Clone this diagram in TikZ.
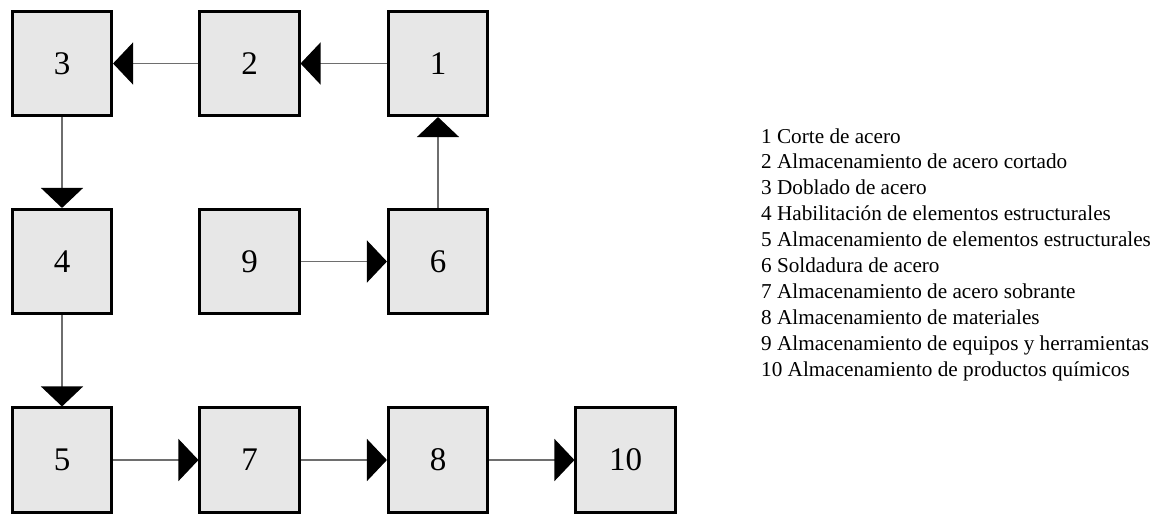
\documentclass[tikz,border=0pt]{standalone}
\usepackage{fontspec}
\setmainfont{Liberation Serif}
\usetikzlibrary{arrows.meta}
\definecolor{boxfill}{HTML}{E7E7E7}
\definecolor{linegray}{HTML}{6E6E6E}
\tikzset{
  procbox/.style={draw=black, line width=2.6pt, fill=boxfill, minimum width=99.5pt, minimum height=104.5pt, inner sep=0pt, font=\fontsize{33}{36}\selectfont},
  flow/.style={draw=linegray, line width=1.2pt, -{Triangle[length=20pt,width=42pt,color=black]}},
  legend/.style={anchor=base west, inner sep=0pt, font=\fontsize{21.2}{25}\selectfont}
}
\begin{document}
\begin{tikzpicture}[x=1pt,y=-1pt]
\useasboundingbox (0,0) rectangle (1163,515);
\node[procbox] (n3) at (62,63.5) {3};
\node[procbox] (n2) at (249.5,63.5) {2};
\node[procbox] (n1) at (438,63.5) {1};
\node[procbox] (n4) at (62,261.5) {4};
\node[procbox] (n9) at (249.5,261.5) {9};
\node[procbox] (n6) at (438,261.5) {6};
\node[procbox] (n5) at (62,460) {5};
\node[procbox] (n7) at (249.5,460) {7};
\node[procbox] (n8) at (438,460) {8};
\node[procbox] (n10) at (625.5,460) {10};
\draw[flow] (n1) -- (n2);
\draw[flow] (n2) -- (n3);
\draw[flow] (n3) -- (n4);
\draw[flow] (n4) -- (n5);
\draw[flow] (n5) -- (n7);
\draw[flow] (n7) -- (n8);
\draw[flow] (n8) -- (n10);
\draw[flow] (n9) -- (n6);
\draw[flow] (n6) -- (n1);
\node[legend] (l1) at (761,143) {1 Corte de acero};
\node[legend] (l2) at (761,168.9) {2 Almacenamiento de acero cortado};
\node[legend] (l3) at (761,194.8) {3 Doblado de acero};
\node[legend] (l4) at (761,220.7) {4 Habilitación de elementos estructurales};
\node[legend] (l5) at (761,246.6) {5 Almacenamiento de elementos estructurales};
\node[legend] (l6) at (761,272.5) {6 Soldadura de acero};
\node[legend] (l7) at (761,298.4) {7 Almacenamiento de acero sobrante};
\node[legend] (l8) at (761,324.3) {8 Almacenamiento de materiales};
\node[legend] (l9) at (761,350.2) {9 Almacenamiento de equipos y herramientas};
\node[legend] (l10) at (761,376.1) {10 Almacenamiento de productos químicos};
\end{tikzpicture}
\end{document}
